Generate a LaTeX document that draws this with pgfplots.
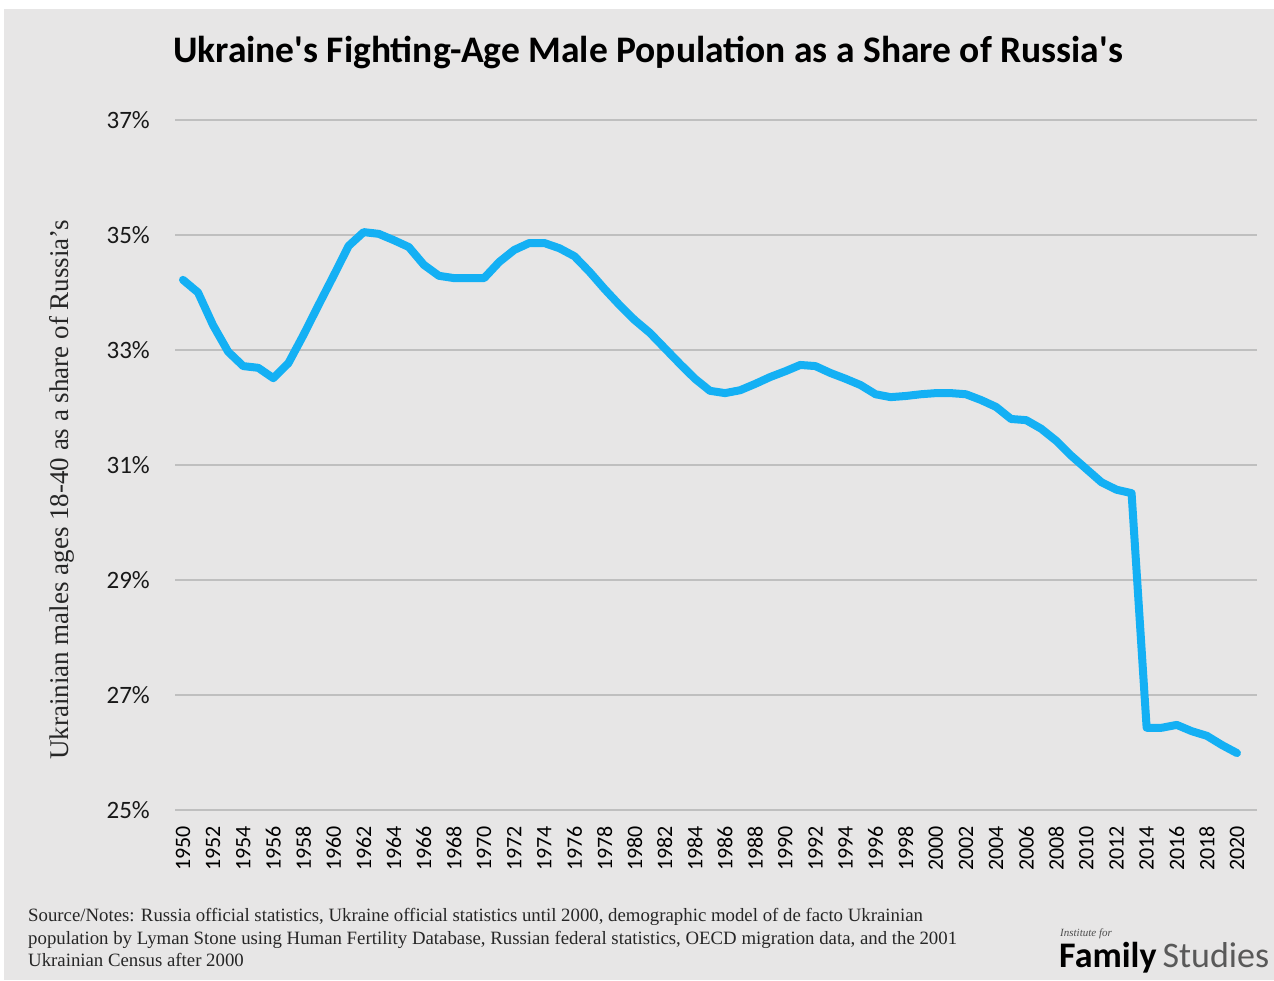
\documentclass[border=0pt]{standalone}
\usepackage{pgfplots}
\pgfplotsset{compat=1.18}
\usepackage{fontspec}
\setmainfont{Liberation Serif}
\newfontfamily\calfont{Carlito}
\definecolor{bgc}{HTML}{E7E6E6}
\definecolor{linec}{HTML}{14B0F4}
\definecolor{gridc}{HTML}{BFBFBF}
\begin{document}
\begin{tikzpicture}[x=1pt,y=1pt]
\fill[white] (0,0) rectangle (1274,980);
\fill[bgc] (4,0) rectangle (1274,971);
\begin{axis}[
  at={(175pt,170pt)}, anchor=south west,
  width=1082pt, height=690pt, scale only axis,
  xmin=1949.47, xmax=2021.33, ymin=25, ymax=37,
  axis line style={draw=none},
  major tick length=0pt,
  ytick={25,27,29,31,33,35,37},
  yticklabels={25\%,27\%,29\%,31\%,33\%,35\%,37\%},
  xtick={1950,1952,...,2020},
  ymajorgrids, grid style={draw=gridc, line width=1.5pt},
  /pgf/number format/assume math mode=true,
  /pgf/number format/set thousands separator={},
  xticklabel style={font=\fontsize{22}{24}\selectfont\calfont, rotate=90, anchor=east, inner sep=0pt, xshift=-16pt, text=black},
  yticklabel style={font=\fontsize{25}{28}\selectfont\calfont, anchor=east, inner sep=0pt, xshift=-25pt, text=black!90},
]
\addplot[linec, line width=8pt, line join=round, line cap=round] coordinates {
(1950,34.22) (1951,34.00) (1952,33.43) (1953,32.97) (1954,32.72) (1955,32.69)
(1956,32.51) (1957,32.77) (1958,33.26) (1959,33.78) (1960,34.29) (1961,34.81)
(1962,35.05) (1963,35.02) (1964,34.91) (1965,34.79) (1966,34.48) (1967,34.29)
(1968,34.25) (1969,34.25) (1970,34.25) (1971,34.53) (1972,34.74) (1973,34.86)
(1974,34.86) (1975,34.77) (1976,34.63) (1977,34.36) (1978,34.06) (1979,33.78)
(1980,33.52) (1981,33.30) (1982,33.03) (1983,32.76) (1984,32.50) (1985,32.29)
(1986,32.25) (1987,32.30) (1988,32.41) (1989,32.53) (1990,32.63) (1991,32.74)
(1992,32.72) (1993,32.60) (1994,32.50) (1995,32.39) (1996,32.23) (1997,32.18)
(1998,32.20) (1999,32.23) (2000,32.25) (2001,32.25) (2002,32.23) (2003,32.13)
(2004,32.01) (2005,31.80) (2006,31.78) (2007,31.63) (2008,31.42) (2009,31.16)
(2010,30.93) (2011,30.70) (2012,30.57) (2013,30.51) (2014,26.43) (2015,26.43)
(2016,26.48) (2017,26.37) (2018,26.29) (2019,26.13) (2020,25.99)
};
\end{axis}
\node[font=\fontsize{37.5}{42}\selectfont\calfont\bfseries, anchor=base] at (648,917) {Ukraine's Fighting-Age Male Population as a Share of Russia's};
\node[font=\fontsize{27}{30}\selectfont, rotate=90, text=black!85] at (62,490) {Ukrainian males ages 18-40 as a share of Russia's};
\node[font=\fontsize{18.8}{22}\selectfont, anchor=base west, inner sep=0pt, text=black!85] at (28,59) {Source/Notes: Russia official statistics, Ukraine official statistics until 2000, demographic model of de facto Ukrainian};
\node[font=\fontsize{18.8}{22}\selectfont, anchor=base west, inner sep=0pt, text=black!85] at (28,36) {population by Lyman Stone using Human Fertility Database, Russian federal statistics, OECD migration data, and the 2001};
\node[font=\fontsize{18.8}{22}\selectfont, anchor=base west, inner sep=0pt, text=black!85] at (28,14) {Ukrainian Census after 2000};
\node[font=\fontsize{11}{12}\selectfont\itshape, anchor=base west, inner sep=0pt, text=black!70] at (1060,44) {Institute for};
\node[font=\fontsize{36}{40}\selectfont\calfont, anchor=base west, inner sep=0pt] at (1059,13) {\textbf{Family}\,\textcolor{black!65}{Studies}};
\end{tikzpicture}
\end{document}
